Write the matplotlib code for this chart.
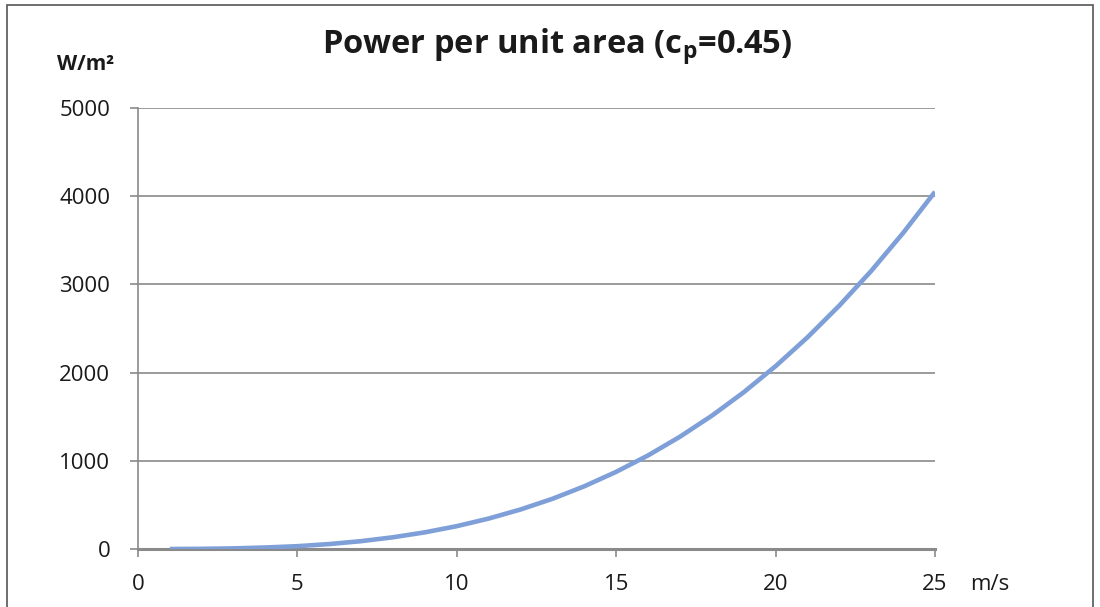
import numpy as np
import matplotlib.pyplot as plt
from matplotlib.patches import Rectangle

# wind speed (m/s) and power per unit area (W/m^2)
speed = [1, 2, 3, 4, 5, 6, 7, 8, 9, 10, 11, 12, 13,
         14, 15, 16, 17, 18, 19, 20, 21, 22, 23, 24, 25]
power = [0, 2, 7, 17, 32, 56, 89, 133, 189, 259, 345, 448, 569,
         711, 875, 1061, 1273, 1511, 1777, 2073, 2400, 2760, 3153, 3583, 4050]

x_ticks = [0, 5, 10, 15, 20, 25]
y_ticks = [0, 1000, 2000, 3000, 4000, 5000]

plt.rcParams['font.family'] = ['Open Sans', 'DejaVu Sans']
grey = '#8a8a8a'

fig = plt.figure(figsize=(11, 6.07), dpi=100)
ax = fig.add_axes([138/1100, 1 - 549/607, (935 - 138)/1100, (549 - 108)/607])

# outer frame
fig.patches.append(Rectangle((7/1100, -0.05), (1093 - 7)/1100, 1.05 - 5/607,
                             transform=fig.transFigure, fill=False,
                             edgecolor='#555555', linewidth=1.2))

ax.plot(speed, power, color='#7f9fd8', linewidth=3.3, solid_capstyle='butt', zorder=3)

ax.set_xlim(0, 25)
ax.set_ylim(0, 5000)
ax.set_xticks(x_ticks)
ax.set_yticks(y_ticks)
ax.yaxis.grid(True, color=grey, linewidth=1.2)
ax.set_axisbelow(True)

for s in ['top', 'right']:
    ax.spines[s].set_visible(False)
ax.spines['left'].set_color(grey)
ax.spines['left'].set_linewidth(1.2)
ax.spines['bottom'].set_color(grey)
ax.spines['bottom'].set_linewidth(2.2)

ax.tick_params(axis='both', colors=grey, length=6, width=1.2,
               labelcolor='#1a1a1a', labelsize=16)
ax.tick_params(axis='y', pad=14)
ax.tick_params(axis='x', pad=12)

fig.text(557/1100, 1 - 47/607, 'Power per unit area (c$_\\mathregular{p}$=0.45)',
         ha='center', va='center', fontsize=23.5, fontweight='bold', color='#1a1a1a')
fig.text(86/1100, 1 - 64/607, 'W/m²', ha='center', va='center',
         fontsize=15, fontweight='bold', color='#1a1a1a')
fig.text(990/1100, 1 - 584/607, 'm/s', ha='center', va='center',
         fontsize=16, color='#1a1a1a')

fig.savefig('out.png', dpi=100)
